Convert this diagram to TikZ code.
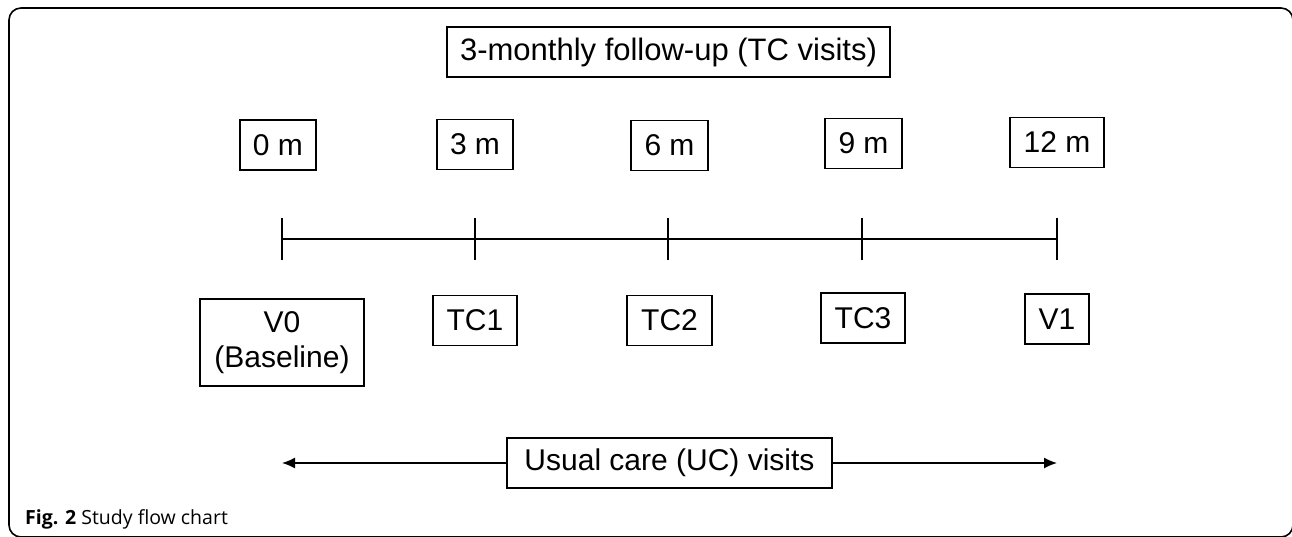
\documentclass[tikz,border=0pt]{standalone}
\usepackage{fontspec}
\setmainfont{Liberation Sans}
\newfontfamily\capfont{Open Sans}
\usetikzlibrary{arrows.meta}
\begin{document}
\begin{tikzpicture}[x=1pt,y=-1pt,
  box/.style={draw, line width=1.4pt, inner xsep=0pt, inner ysep=0pt,
    minimum height=50pt, align=center, font=\fontsize{30}{34.5}\selectfont},
  tline/.style={line width=1.4pt},
  arr/.style={line width=1.4pt, -{Latex[length=13pt,width=11pt]}}]
\useasboundingbox (0,0) rectangle (1292,536);
\draw[line width=1.6pt, rounded corners=12pt] (9,8) rectangle (1293,537);
% top title
\node[box, minimum width=443pt, font=\fontsize{31}{35}\selectfont] (top) at (668.5,52) {3-monthly follow-up (TC visits)};
% month boxes
\node[box, minimum width=76pt] (m0) at (278,145) {0 m};
\node[box, minimum width=76pt] (m3) at (475,144.5) {3 m};
\node[box, minimum width=77pt] (m6) at (669.5,145.5) {6 m};
\node[box, minimum width=77pt] (m9) at (863.5,143.5) {9 m};
\node[box, minimum width=94pt] (m12) at (1057,142.5) {12 m};
% timeline
\coordinate (t0) at (282,239);
\coordinate (t1) at (475,239);
\coordinate (t2) at (668,239);
\coordinate (t3) at (862,239);
\coordinate (t4) at (1057,239);
\draw[tline] (t0) -- (t4);
\foreach \t in {t0,t1,t2,t3,t4}
  \draw[tline] ([yshift=-21pt]\t) -- ([yshift=21pt]\t);
% visit boxes
\node[box, minimum width=164pt, minimum height=87pt] (v0) at (282,342.5) {V0\\(Baseline)};
\node[box, minimum width=84pt] (tc1) at (475,320.5) {TC1};
\node[box, minimum width=85pt] (tc2) at (669.5,320.5) {TC2};
\node[box, minimum width=84pt] (tc3) at (863,318) {TC3};
\node[box, minimum width=64pt] (v1) at (1057,319) {V1};
% usual care
\node[box, minimum width=325pt] (uc) at (669.5,463) {Usual care (UC) visits};
\coordinate (ul) at (282,463);
\coordinate (ur) at (1057,463);
\draw[arr] (uc.west) -- (ul);
\draw[arr] (uc.east) -- (ur);
% caption
\node[anchor=base west, inner sep=0pt, font=\capfont\fontsize{19.5}{23}\selectfont] (cap) at (25,524) {\textbf{Fig. 2} Study flow chart};
\end{tikzpicture}
\end{document}
